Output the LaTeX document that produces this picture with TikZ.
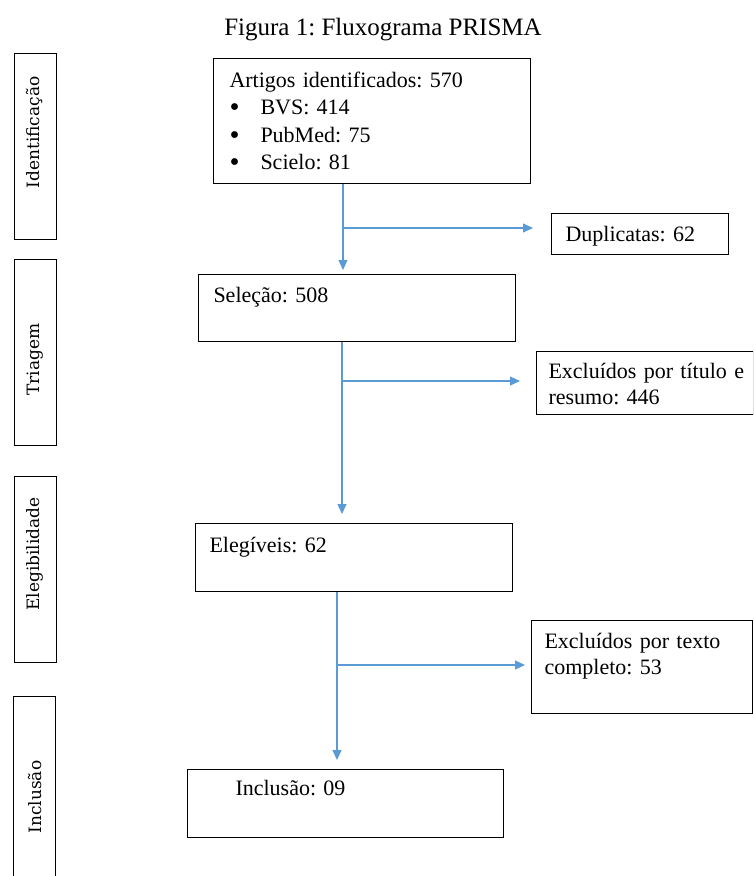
\documentclass[tikz,border=0pt]{standalone}
\usepackage{fontspec}
\setmainfont{Liberation Serif}
\newfontfamily\sidefont{DejaVu Serif}
\usetikzlibrary{arrows.meta}
\definecolor{flowblue}{RGB}{91,155,213}
\frenchspacing
\newcommand{\itembul}{\makebox[31pt][l]{\smash{\raisebox{-2pt}{\scalebox{1.3}{•}}}}}

\begin{document}
\begin{tikzpicture}[x=1pt, y=-1pt,
    box/.style={draw, line width=1pt, rectangle, anchor=north west, inner ysep=0pt, align=left, font=\fontsize{22}{25.5}\selectfont},
    side/.style={draw, line width=1pt, rectangle, minimum width=42pt, inner sep=0pt},
    sidetext/.style={rotate=90, inner sep=0pt, font=\sidefont\fontsize{17}{20}\selectfont},
    flow/.style={-{Triangle[length=10pt,width=9pt]}, draw=flowblue, line width=1.2pt}]
    \useasboundingbox (0,0) rectangle (753,876);
    \clip (0,0) rectangle (753,876);

    \node[anchor=base, inner sep=0pt, font=\fontsize{25}{30}\selectfont] (title) at (383,35) {Figura 1: Fluxograma PRISMA};

    % fases
    \node[side, minimum height=186pt] (s1) at (35,146) {};
    \node[side, minimum height=186pt] (s2) at (35,352) {};
    \node[side, minimum height=186pt] (s3) at (35,569) {};
    \node[side, minimum height=220pt] (s4) at (34,806) {};
    \node[sidetext] (t1) at (35,132.5) {Identificação};
    \node[sidetext] (t2) at (35,359.5) {Triagem};
    \node[sidetext] (t3) at (35,554) {Elegibilidade};
    \node[sidetext] (t4) at (35,797) {Inclusão};

    % caixas
    \node[box, text width=285pt, inner xsep=16pt, text height=29pt, text depth=96pt, font=\fontsize{22}{27.3}\selectfont] (ident) at (213,58)
        {Artigos identificados: 570\\
         \itembul BVS: 414\\
         \itembul PubMed: 75\\
         \itembul Scielo: 81};
    \node[box, text width=149pt, inner xsep=14pt, text height=28pt, text depth=13pt] (dup) at (551,213) {Duplicatas: 62};
    \node[box, text width=287pt, inner xsep=15pt, text height=28pt, text depth=39pt] (sel) at (198,274) {Seleção: 508};
    \node[box, text width=193pt, inner xsep=12pt, text height=27pt, text depth=36pt] (exc1) at (536,351) {\mbox{Excluídos por título e}\\resumo: 446};
    \node[box, text width=289pt, inner xsep=14pt, text height=29pt, text depth=39pt] (eleg) at (195,523) {Elegíveis: 62};
    \node[box, text width=195pt, inner xsep=13pt, text height=28pt, text depth=65pt] (exc2) at (531,620) {Excluídos por texto\\completo: 53};
    \node[box, text width=220pt, inner xsep=48pt, text height=26pt, text depth=42pt] (incl) at (187,769) {Inclusão: 09};

    % setas
    \coordinate (b1) at (343,228);
    \coordinate (b2) at (342,381);
    \coordinate (b3) at (337,665);
    \draw[flow, shorten >=4pt] (ident.south -| b1) -- (sel.north -| b1);
    \draw[flow, shorten >=18pt] (b1) -- (dup.west |- b1);
    \draw[flow, shorten >=9pt] (sel.south -| b2) -- (eleg.north -| b2);
    \draw[flow, shorten >=16pt] (b2) -- (exc1.west |- b2);
    \draw[flow, shorten >=9pt] (eleg.south -| b3) -- (incl.north -| b3);
    \draw[flow, shorten >=6pt] (b3) -- (exc2.west |- b3);
\end{tikzpicture}
\end{document}
